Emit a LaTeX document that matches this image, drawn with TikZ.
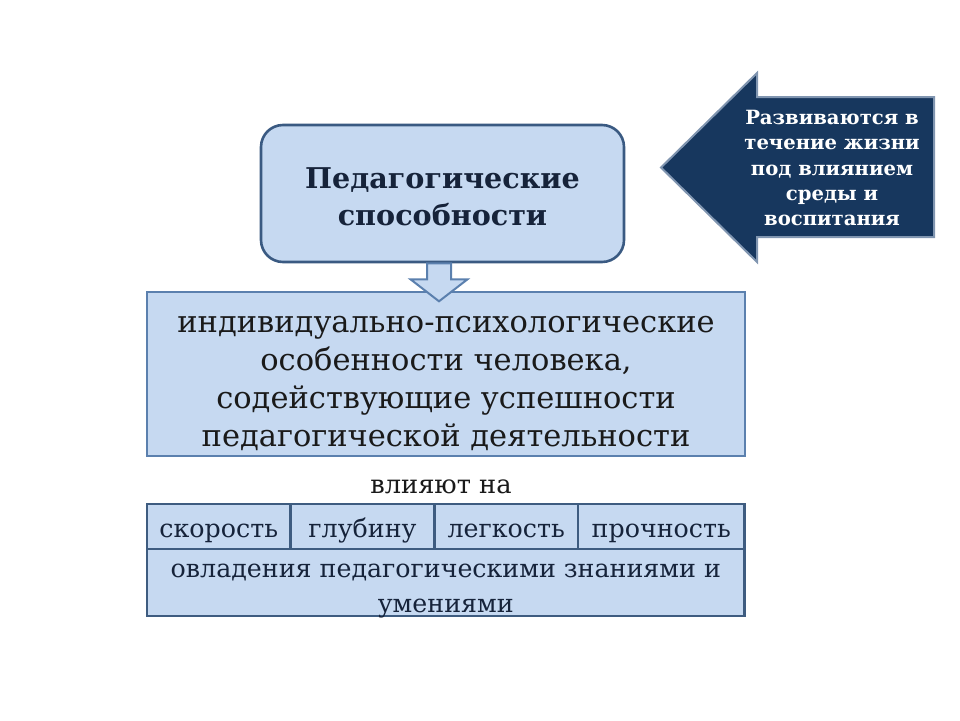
\documentclass[tikz,border=0pt]{standalone}
\usepackage{fontspec}
\setmainfont{DejaVu Serif}
\usetikzlibrary{calc}
\definecolor{boxfill}{HTML}{C6D9F1}
\definecolor{topborder}{HTML}{3A5A82}
\definecolor{midborder}{HTML}{5B80AE}
\definecolor{tabborder}{HTML}{3E5C80}
\definecolor{navy}{HTML}{17375E}
\definecolor{navyborder}{HTML}{8095B0}
\definecolor{inktext}{HTML}{16233A}
\definecolor{blacktext}{HTML}{1A1A1A}
\tikzset{
  topbox/.style={draw=topborder, line width=2.6pt, fill=boxfill, rounded corners=22pt, inner sep=0pt},
  toptext/.style={align=center, inner sep=0pt, text=inktext, font=\bfseries\fontsize{28.6}{37}\selectfont},
  midbox/.style={draw=midborder, line width=2pt, fill=boxfill, inner sep=0pt},
  midtext/.style={align=center, inner sep=0pt, text=blacktext, font=\fontsize{30.5}{37.7}\selectfont},
  cell/.style={draw=tabborder, line width=2.6pt, fill=boxfill, inner sep=0pt},
  celltext/.style={align=center, inner sep=0pt, text=inktext, font=\fontsize{25.3}{35}\selectfont},
  downarrow/.style={draw=midborder, line width=2pt, fill=boxfill, line join=miter},
  navyarrow/.style={draw=navyborder, line width=2pt, fill=navy, line join=miter},
  arrowtext/.style={align=center, text=white, inner sep=0pt, font=\bfseries\fontsize{19.6}{25.3}\selectfont},
  plaintext/.style={text=blacktext, inner sep=0pt, font=\fontsize{25.7}{30}\selectfont}
}
\begin{document}
\begin{tikzpicture}[x=1pt,y=-1pt]
\useasboundingbox[fill=white] (0,0) rectangle (960,720);

% top rounded box
\node[topbox, minimum width=363pt, minimum height=137pt] (top) at (442.5,193.5) {};
\node[toptext, yshift=-3pt] (toplbl) at (top.center) {Педагогические\\способности};

% middle box
\node[midbox, minimum width=598pt, minimum height=164pt] (mid) at (446,374) {};
\node[midtext, yshift=-9.5pt] (midlbl) at (mid.center)
  {индивидуально-психологические\\особенности человека,\\содействующие успешности\\педагогической деятельности};

% down block arrow from top box to middle box
\coordinate (as) at ($(top.south)+(-3.5,0)$);
\draw[downarrow] ($(as)+(-12,0)$) -- ($(as)+(-12,16)$) -- ($(as)+(-28.5,16)$)
  -- ($(as)+(0,38)$) -- ($(as)+(28.5,16)$) -- ($(as)+(12,16)$) -- ($(as)+(12,0)$) -- cycle;

% left navy arrow with text
\draw[navyarrow] (661,167.5) -- (757,73) -- (757,97) -- (934,97) -- (934,237)
  -- (757,237) -- (757,262) -- cycle;
\node[arrowtext] (note) at (832,168)
  {Развиваются в\\течение жизни\\под влиянием\\среды и\\воспитания};

% label
\node[plaintext, yshift=-4.3pt] (infl) at (441,483) {влияют на};

% table
\node[cell, minimum width=143.5pt, minimum height=45pt] (c1) at (218.75,526.5) {};
\node[cell, minimum width=144pt, minimum height=45pt] (c2) at (362.5,526.5) {};
\node[cell, minimum width=143.5pt, minimum height=45pt] (c3) at (506.25,526.5) {};
\node[cell, minimum width=166.5pt, minimum height=45pt] (c4) at (661.25,526.5) {};
\node[cell, minimum width=597.5pt, minimum height=67pt] (r2) at (445.75,582.5) {};
\node[celltext, anchor=base] (t1) at ($(c1.center)+(0,10.5)$) {скорость};
\node[celltext, anchor=base] (t2) at ($(c2.center)+(0,10.5)$) {глубину};
\node[celltext, anchor=base] (t3) at ($(c3.center)+(0,10.5)$) {легкость};
\node[celltext, anchor=base] (t4) at ($(c4.center)+(0,10.5)$) {прочность};
\node[celltext, yshift=-8.7pt] (t5) at (r2.center) {овладения педагогическими знаниями и\\умениями};
\end{tikzpicture}
\end{document}
